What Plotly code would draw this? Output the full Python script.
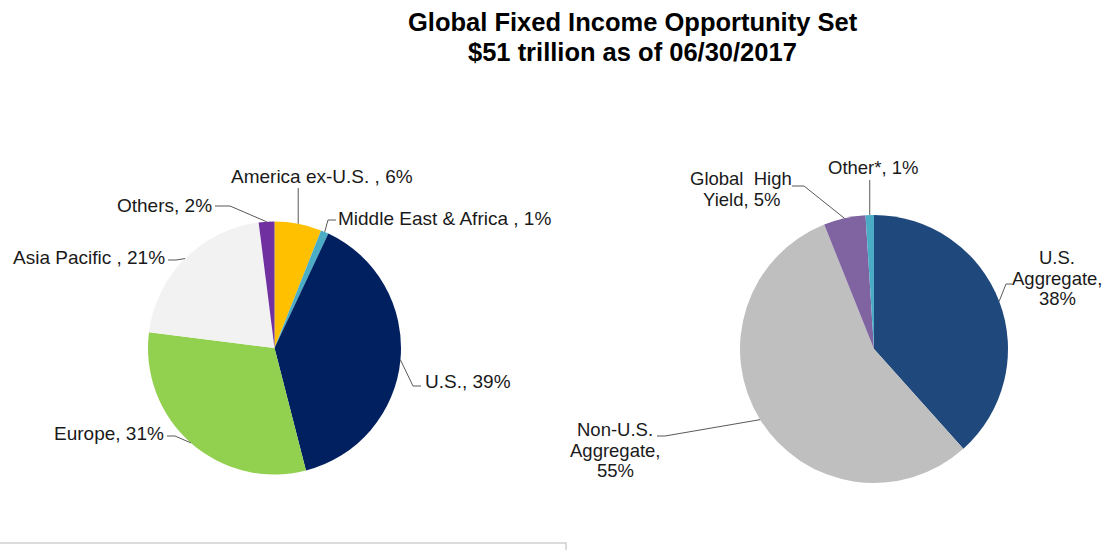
import math
import plotly.graph_objects as go

W, H = 1103, 550

# ---- data ----
left_names = ["America ex-U.S. ", "Middle East & Africa ", "U.S.", "Europe", "Asia Pacific ", "Others"]
left_values = [6, 1, 39, 31, 21, 2]
left_colors = ["#FFC000", "#4BACC6", "#002060", "#92D050", "#F2F2F2", "#7030A0"]

right_names = ["U.S.<br>Aggregate", "Non-U.S.<br>Aggregate", "Global  High<br>Yield", "Other*"]
right_seps = [",<br>", ",<br>", ", ", ", "]
right_values = [38, 55, 5, 1]
right_colors = ["#1F497D", "#BFBFBF", "#8064A2", "#4BACC6"]

title_lines = ["Global Fixed Income Opportunity Set", "$51 trillion as of 06/30/2017"]

# ---- layout helpers (pixel -> paper) ----
def px(x):
    return x / W

def py(y):
    return 1 - y / H

# pie geometry in pixels (center x, center y, radius)
L_CX, L_CY, L_R = 274.5, 348, 126.5
R_CX, R_CY, R_R = 874, 349, 134

def domain(cx, cy, r):
    return dict(x=[px(cx - r), px(cx + r)], y=[py(cy + r), py(cy - r)])

def rim_points(values, cx, cy, r):
    tot = sum(values)
    pts, cum = [], 0
    for v in values:
        mid = (cum + v / 2) / tot * 2 * math.pi
        pts.append((cx + r * math.sin(mid), cy - r * math.cos(mid)))
        cum += v
    return pts

fig = go.Figure()
fig.add_trace(go.Pie(
    labels=[n.strip() for n in left_names], values=left_values, sort=False,
    direction="clockwise", rotation=0, textinfo="none", hoverinfo="label+percent",
    marker=dict(colors=left_colors, line=dict(width=0)),
    domain=domain(L_CX, L_CY, L_R), showlegend=False,
))
fig.add_trace(go.Pie(
    labels=[n.replace("<br>", " ") for n in right_names], values=right_values, sort=False,
    direction="clockwise", rotation=0, textinfo="none", hoverinfo="label+percent",
    marker=dict(colors=right_colors, line=dict(width=0)),
    domain=domain(R_CX, R_CY, R_R), showlegend=False,
))

FONT = "Liberation Sans, Arial, sans-serif"
LBL_L = dict(family=FONT, size=19, color="#1A1A1A")
LBL_R = dict(family=FONT, size=18.5, color="#1A1A1A")
LINE = dict(color="#595959", width=1)
LINE_STEP = 20.5

annotations = []
shapes = []

def leader(elbow, rx, ry):
    pts = [(rx if ex is None else ex, ey) for ex, ey in elbow] + [(rx, ry)]
    path = "M " + " L ".join(f"{px(a)},{py(b)}" for a, b in pts)
    return dict(type="path", path=path, xref="paper", yref="paper", line=LINE)

# left labels: (text anchor x, y, xanchor, leader elbow points)
left_pos = [
    (322, 177, "center", [(None, 188)]),
    (336, 218, "left", [(336, 220), (328, 220)]),
    (423, 381, "left", [(421, 386), (413, 386)]),
    (166, 433, "right", [(167, 436), (175, 436)]),
    (167, 257, "right", [(168, 260), (176, 260)]),
    (214, 205, "right", [(215, 206), (230, 206)]),
]
lrim = rim_points(left_values, L_CX, L_CY, L_R)
for name, v, (x, y, xa, elbow), (rx, ry) in zip(left_names, left_values, left_pos, lrim):
    annotations.append(dict(x=px(x), y=py(y), xref="paper", yref="paper", xanchor=xa, yanchor="middle",
                            text=f"{name}, {v}%", showarrow=False, font=LBL_L))
    shapes.append(leader(elbow, rx, ry))

right_pos = [
    (1057, 278, [(1012, 284), (1006, 284)]),
    (615, 450, [(657, 436), (665, 436)]),
    (741, 189, [(792, 186), (804, 186)]),
    (873, 168, [(None, 180)]),
]
rrim = rim_points(right_values, R_CX, R_CY, R_R)
for name, sep, v, (x, y, elbow), (rx, ry) in zip(right_names, right_seps, right_values, right_pos, rrim):
    lines = f"{name}{sep}{v}%".split("<br>")
    n = len(lines)
    for i, ln in enumerate(lines):
        yy = y + (i - (n - 1) / 2) * LINE_STEP
        annotations.append(dict(x=px(x), y=py(yy), xref="paper", yref="paper", xanchor="center",
                                yanchor="middle", text=ln.replace("  ", "&nbsp; "), showarrow=False,
                                font=LBL_R))
    shapes.append(leader(elbow, rx, ry))

# title
for i, t in enumerate(title_lines):
    annotations.append(dict(x=px(632.5), y=py(22 + i * 30), xref="paper", yref="paper", xanchor="center",
                            yanchor="middle", text=f"<b>{t}</b>", showarrow=False,
                            font=dict(family=FONT, size=25.5, color="#000000")))

# bottom frame line
shapes.append(dict(type="path", path=f"M {px(0)},{py(543)} L {px(566)},{py(543)} L {px(566)},{py(551)}",
                   xref="paper", yref="paper", line=dict(color="#D0D0D0", width=1.5)))

fig.update_layout(
    width=W, height=H, margin=dict(l=0, r=0, t=0, b=0),
    paper_bgcolor="white", plot_bgcolor="white",
    annotations=annotations, shapes=shapes,
)
fig.write_html("out.html", config={"displayModeBar": False},
               post_script="document.body.style.margin='0';document.body.style.overflow='hidden';")
